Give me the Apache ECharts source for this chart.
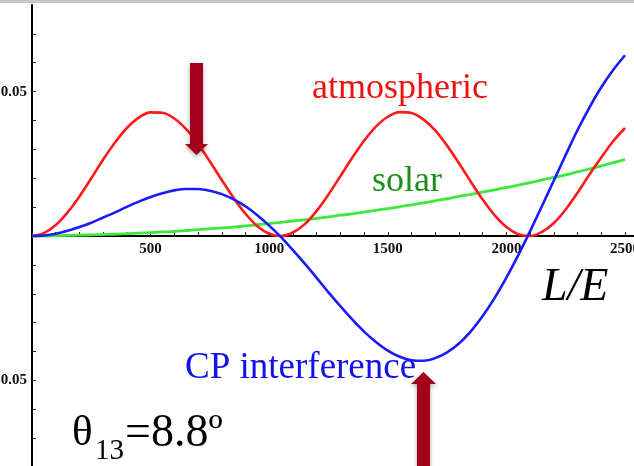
<!DOCTYPE html>
<html><head><meta charset="utf-8">
<script src="https://cdn.jsdelivr.net/npm/echarts@6/dist/echarts.min.js"></script>
<style>html,body{margin:0;padding:0;background:#fff;overflow:hidden}#c{width:634px;height:466px}</style>
</head><body><div id="c"></div>
<script>
const LE = [0,50,100,150,200,250,300,350,400,450,500,550,600,650,700,750,800,850,900,950,1000,1050,1100,1150,1200,1250,1300,1350,1400,1450,1500,1550,1600,1650,1700,1750,1800,1850,1900,1950,2000,2050,2100,2150,2200,2250,2300,2350,2400,2450,2500];
const atmospheric = [0,0.0010,0.0038,0.0082,0.0137,0.0200,0.0265,0.0324,0.0374,0.0410,0.0428,0.0427,0.0407,0.0370,0.0319,0.0258,0.0194,0.0132,0.0077,0.0034,0.0008,0.0000,0.0012,0.0041,0.0087,0.0144,0.0207,0.0271,0.0330,0.0379,0.0413,0.0429,0.0426,0.0404,0.0366,0.0313,0.0252,0.0188,0.0126,0.0072,0.0031,0.0006,0.0000,0.0014,0.0045,0.0092,0.0150,0.0213,0.0272,0.0328,0.0374];
const cpInterference = [0,0.0002,0.0008,0.0018,0.0031,0.0046,0.0064,0.0082,0.0101,0.0119,0.0135,0.0148,0.0158,0.0163,0.0163,0.0157,0.0145,0.0127,0.0103,0.0072,0.0036,-0.0004,-0.0049,-0.0096,-0.0145,-0.0195,-0.0243,-0.0289,-0.0331,-0.0367,-0.0397,-0.0418,-0.0430,-0.0432,-0.0423,-0.0403,-0.0372,-0.0330,-0.0277,-0.0215,-0.0144,-0.0066,0.0017,0.0104,0.0192,0.0281,0.0367,0.0445,0.0515,0.0575,0.0626];
const solar = [0,0.0000,0.0001,0.0002,0.0003,0.0004,0.0005,0.0006,0.0008,0.0010,0.0012,0.0014,0.0016,0.0019,0.0022,0.0025,0.0028,0.0031,0.0035,0.0039,0.0043,0.0047,0.0052,0.0056,0.0061,0.0066,0.0072,0.0077,0.0083,0.0089,0.0095,0.0101,0.0108,0.0115,0.0122,0.0129,0.0137,0.0144,0.0152,0.0160,0.0168,0.0176,0.0185,0.0194,0.0203,0.0212,0.0222,0.0232,0.0243,0.0254,0.0265];
const xTickLabels = [500,1000,1500,2000,2500];
const yTickLabels = [-0.05,0.05];
const yMinorTicks = [-0.07,-0.06,-0.05,-0.04,-0.03,-0.02,-0.01,0.01,0.02,0.03,0.04,0.05,0.06,0.07];

const pair = (ys) => LE.map((x,i)=>[x, ys[i]]);
const chart = echarts.init(document.getElementById('c'), null, {renderer:'canvas'});
const labelFont = {fontFamily:'Liberation Serif', fontWeight:'bold', fontSize:15, color:'#111'};
const arrowColor = '#a3001b';
const GRID_TOP = 5, GRID_H = 462, Y_MIN = -0.08, Y_MAX = 0.08;
// shift the bottom x axis up to the y = 0 line
const xAxisOffset = -GRID_H * (0 - Y_MIN) / (Y_MAX - Y_MIN);
const zeroY = GRID_TOP + GRID_H + xAxisOffset;
chart.setOption({
  animation:false,
  backgroundColor:'#fff',
  grid:{left:32, right:9, top:GRID_TOP, height:GRID_H, containLabel:false, outerBoundsMode:'none'},
  xAxis:{type:'value', min:0, max:2500, interval:100, position:'bottom', offset:xAxisOffset,
    axisLine:{onZero:false, lineStyle:{color:'#000', width:2}},
    axisTick:{inside:true, length:4, lineStyle:{color:'#222', width:1}},
    axisLabel:Object.assign({margin:6, formatter:(v)=> xTickLabels.indexOf(v)>=0 ? String(v) : ''}, labelFont),
    splitLine:{show:false}},
  yAxis:{type:'value', min:Y_MIN, max:Y_MAX,
    axisLine:{show:true, lineStyle:{color:'#000', width:2}},
    axisTick:{show:true, inside:true, length:4, customValues:yMinorTicks, lineStyle:{color:'#222'}},
    axisLabel:Object.assign({margin:5, customValues:yTickLabels, formatter:(v)=>v.toFixed(2)}, labelFont),
    splitLine:{show:false}},
  series:[
    {name:'atmospheric', type:'line', data:pair(atmospheric), smooth:0.3, showSymbol:false, lineStyle:{color:'#ff1a1a', width:2.6}, z:3},
    {name:'solar', type:'line', data:pair(solar), smooth:0.3, showSymbol:false, lineStyle:{color:'#3de83d', width:2.8}, z:2},
    {name:'CP interference', type:'line', data:pair(cpInterference), smooth:0.3, showSymbol:false, lineStyle:{color:'#1a1aff', width:2.6}, z:4}
  ],
  graphic:[
    {type:'rect', shape:{x:0,y:0,width:634,height:3}, style:{fill:'#cbc6ba'}, z:100},
    {type:'line', shape:{x1:624, y1:zeroY, x2:634, y2:zeroY}, style:{stroke:'#000', lineWidth:2}},
    {type:'text', style:{text:'atmospheric', x:312, y:89, font:'36px "Liberation Serif"', fill:'#ee1111', textVerticalAlign:'middle'}},
    {type:'text', style:{text:'solar', x:372, y:182, font:'36px "Liberation Serif"', fill:'#1a8f1a', textVerticalAlign:'middle'}},
    {type:'text', style:{text:'CP interference', x:185, y:368, font:'37px "Liberation Serif"', fill:'#1111ee', textVerticalAlign:'middle'}},
    {type:'text', style:{text:'L/E', x:542, y:288, font:'italic 46px "Liberation Serif"', fill:'#000', textVerticalAlign:'middle'}},
    {type:'text', style:{text:'θ', x:72, y:434, font:'43px "Liberation Serif"', fill:'#000', textVerticalAlign:'middle'}},
    {type:'text', style:{text:'13', x:95, y:451, font:'29px "Liberation Serif"', fill:'#000', textVerticalAlign:'middle'}},
    {type:'text', style:{text:'=8.8º', x:125, y:434, font:'46px "Liberation Serif"', fill:'#000', textVerticalAlign:'middle'}},
    {type:'polygon', shape:{points:[[190,63],[203,63],[203,144],[208,144],[196.5,155],[185,144],[190,144]]}, style:{fill:arrowColor, shadowBlur:4, shadowColor:'rgba(0,0,0,0.35)', shadowOffsetY:2}, z:50},
    {type:'polygon', shape:{points:[[423.5,372],[436,384],[430,384],[430,470],[417,470],[417,384],[411,384]]}, style:{fill:arrowColor, shadowBlur:4, shadowColor:'rgba(0,0,0,0.35)', shadowOffsetY:2}, z:50}
  ]
});
</script></body></html>
